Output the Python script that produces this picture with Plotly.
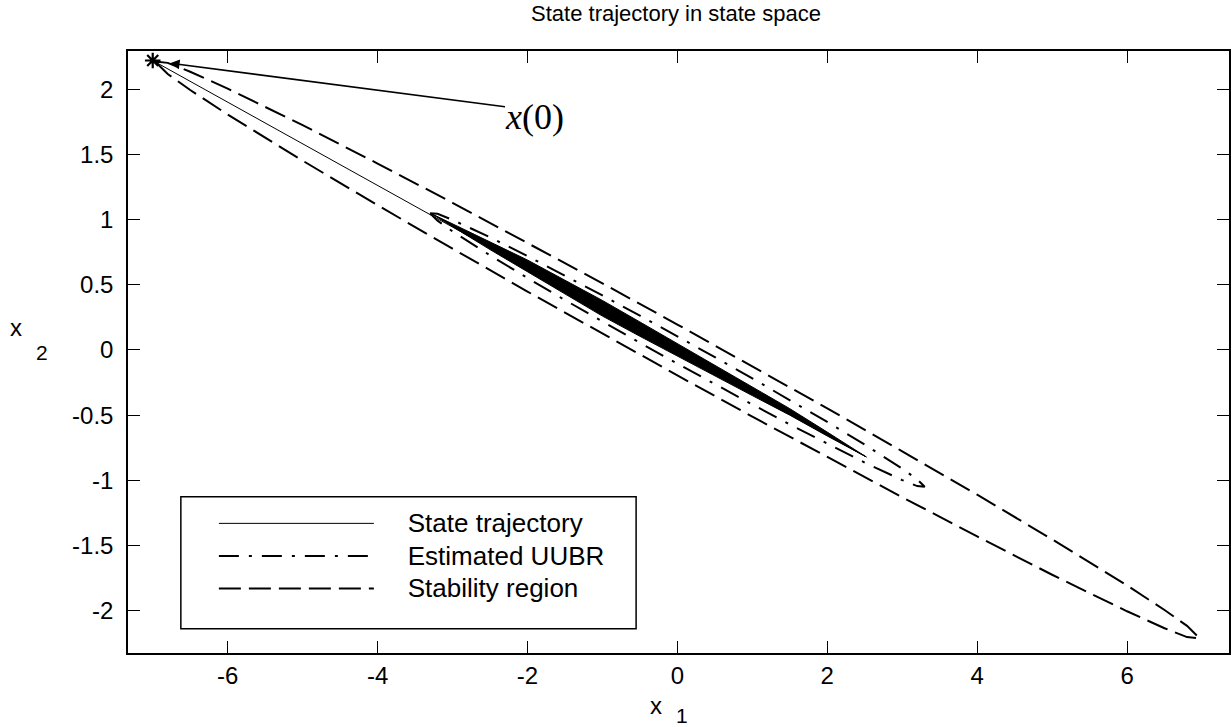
import plotly.graph_objects as go

# ---------------- data ----------------
# State trajectory (thin line): x(0) -> far end -> back to the left end of the dense band
traj_x = [-7.00, 2.52, -3.28]
traj_y = [2.22, -0.82, 1.045]

# Dense part of the trajectory (outline of the black band)
band_x = [-3.28, -2.5, -2.0, -1.5, -1.0, -0.5, 0.0, 0.5, 1.0, 1.5, 2.0, 2.52,
          2.0, 1.5, 1.0, 0.5, 0.0, -0.5, -1.0, -1.5, -2.0, -2.5, -3.28]
band_y = [1.045, 0.83, 0.69, 0.535, 0.38, 0.215, 0.05, -0.115, -0.28, -0.45, -0.63, -0.82,
          -0.66, -0.50, -0.35, -0.20, -0.05, 0.105, 0.26, 0.43, 0.60, 0.77, 1.045]

# Estimated UUBR boundary (dash-dot)
uubr_x = [-3.3, -3.2, -3.0, -2.5, -2.0, -1.5, -1.0, -0.5, 0.0, 0.5, 1.0, 1.5, 2.0, 2.5, 3.0, 3.2, 3.3,
          3.2, 3.0, 2.5, 2.0, 1.5, 1.0, 0.5, 0.0, -0.5, -1.0, -1.5, -2.0, -2.5, -3.0, -3.2, -3.3]
uubr_y = [1.049, 1.044, 0.998, 0.864, 0.720, 0.571, 0.418, 0.263, 0.105, -0.055, -0.218, -0.383,
          -0.552, -0.726, -0.910, -0.992, -1.049,
          -1.044, -0.998, -0.864, -0.720, -0.571, -0.418, -0.263, -0.105, 0.055, 0.218, 0.383,
          0.552, 0.726, 0.910, 0.992, 1.049]

# Stability region boundary (dashed)
stab_x = [-6.97, -6.8, -6.5, -6.0, -5.0, -4.0, -3.0, -2.0, -1.0, 0.0, 1.0, 2.0, 3.0, 4.0, 5.0, 6.0,
          6.5, 6.8, 6.97,
          6.8, 6.5, 6.0, 5.0, 4.0, 3.0, 2.0, 1.0, 0.0, -1.0, -2.0, -3.0, -4.0, -5.0, -6.0, -6.5, -6.8, -6.97]
stab_y = [2.213, 2.202, 2.134, 2.004, 1.724, 1.430, 1.129, 0.822, 0.511, 0.195, -0.125, -0.448,
          -0.777, -1.110, -1.452, -1.806, -1.994, -2.116, -2.213,
          -2.202, -2.134, -2.004, -1.724, -1.430, -1.129, -0.822, -0.511, -0.195, 0.125, 0.448,
          0.777, 1.110, 1.452, 1.806, 1.994, 2.116, 2.213]

# Initial state marker and annotation
x0_point = [-7.00, 2.22]
arrow_tail = [-2.28, 1.864]
arrow_head = [-6.77, 2.20]
label_pos = [-2.32, 1.785]

x_tickvals = [-6, -4, -2, 0, 2, 4, 6]
x_ticktext = ["-6", "-4", "-2", "0", "2", "4", "6"]
y_tickvals = [-2, -1.5, -1, -0.5, 0, 0.5, 1, 1.5, 2]
y_ticktext = ["-2", "-1.5", "-1", "-0.5", "0", "0.5", "1", "1.5", "2"]

series_names = ["State trajectory", "Estimated UUBR", "Stability region"]

# ---------------- figure ----------------
FONT = "Liberation Sans, Arial, sans-serif"
PAD = "\u00a0\u00a0\u00a0\u00a0"


def legend_label(s):
    return "<span style='font-size:26px'>" + PAD + s + "</span>"


fig = go.Figure()

fig.add_trace(go.Scatter(x=traj_x, y=traj_y, mode="lines", name=legend_label(series_names[0]),
                         legendgroup="a", line=dict(color="black", width=1)))
fig.add_trace(go.Scatter(x=uubr_x, y=uubr_y, mode="lines", name=legend_label(series_names[1]),
                         legendgroup="b",
                         line=dict(color="black", width=2, dash="20px,10px,3px,10px")))
fig.add_trace(go.Scatter(x=stab_x, y=stab_y, mode="lines", name=legend_label(series_names[2]),
                         legendgroup="c", line=dict(color="black", width=2, dash="22px,8px")))
fig.add_trace(go.Scatter(x=band_x, y=band_y, mode="lines", fill="toself", fillcolor="black",
                         line=dict(color="black", width=1), showlegend=False, hoverinfo="skip"))
fig.add_trace(go.Scatter(x=[x0_point[0]], y=[x0_point[1]], mode="markers", showlegend=False,
                         marker=dict(symbol="asterisk-open", size=13, color="black",
                                     line=dict(color="black", width=2.2))))

fig.add_annotation(x=arrow_head[0], y=arrow_head[1], ax=arrow_tail[0], ay=arrow_tail[1],
                   xref="x", yref="y", axref="x", ayref="y", text="", showarrow=True,
                   arrowhead=2, arrowsize=1.2, arrowwidth=1.6, arrowcolor="black",
                   standoff=0, startstandoff=0)
fig.add_annotation(x=label_pos[0], y=label_pos[1], xref="x", yref="y", text="<i>x</i>(0)",
                   showarrow=False, xanchor="left", yanchor="middle",
                   font=dict(family="Liberation Serif, Times New Roman, serif", size=36, color="black"))

# axis titles (MATLAB-style "x  1")
fig.add_annotation(x=0.4796, y=-0.0875, xref="paper", yref="paper", text="x", showarrow=False,
                   xanchor="center", yanchor="middle", font=dict(family=FONT, size=24, color="black"))
fig.add_annotation(x=0.5035, y=-0.104, xref="paper", yref="paper", text="1", showarrow=False,
                   xanchor="center", yanchor="middle", font=dict(family=FONT, size=21, color="black"))
fig.add_annotation(x=-0.1015, y=0.54, xref="paper", yref="paper", text="x", showarrow=False,
                   xanchor="center", yanchor="middle", font=dict(family=FONT, size=24, color="black"))
fig.add_annotation(x=-0.078, y=0.50, xref="paper", yref="paper", text="2", showarrow=False,
                   xanchor="center", yanchor="middle", font=dict(family=FONT, size=21, color="black"))

# legend frame
fig.add_shape(type="rect", xref="paper", yref="paper", x0=0.048, x1=0.4615, y0=0.0403, y1=0.2594,
              line=dict(color="black", width=1.5), fillcolor="white", layer="below")

fig.update_layout(
    width=1232, height=727,
    margin=dict(l=128, r=1, t=51, b=74),
    paper_bgcolor="white", plot_bgcolor="white",
    font=dict(family=FONT, size=24, color="black"),
    title=dict(text="State trajectory in state space", x=0.4977, xref="paper", xanchor="center",
               y=1 - 13 / 727, yref="container", yanchor="middle",
               font=dict(family=FONT, size=22, color="black")),
    showlegend=True,
    legend=dict(x=0.078, y=0.2499, xanchor="left", yanchor="top", bgcolor="rgba(0,0,0,0)",
                borderwidth=0, itemwidth=155, tracegroupgap=1, traceorder="grouped",
                font=dict(family=FONT, size=22, color="black")),
    xaxis=dict(range=[-7.33, 7.36], tickvals=x_tickvals, ticktext=x_ticktext, ticks="inside",
               ticklen=12, tickwidth=1, tickcolor="black", showline=True, linecolor="black",
               linewidth=1.5, mirror="ticks", showgrid=False, zeroline=False),
    yaxis=dict(range=[-2.324, 2.293], tickvals=y_tickvals, ticktext=y_ticktext, ticks="inside",
               ticklen=12, tickwidth=1, tickcolor="black", showline=True, linecolor="black",
               linewidth=1.5, mirror="ticks", showgrid=False, zeroline=False, ticklabelstandoff=8),
)

fig.write_html("out.html")
